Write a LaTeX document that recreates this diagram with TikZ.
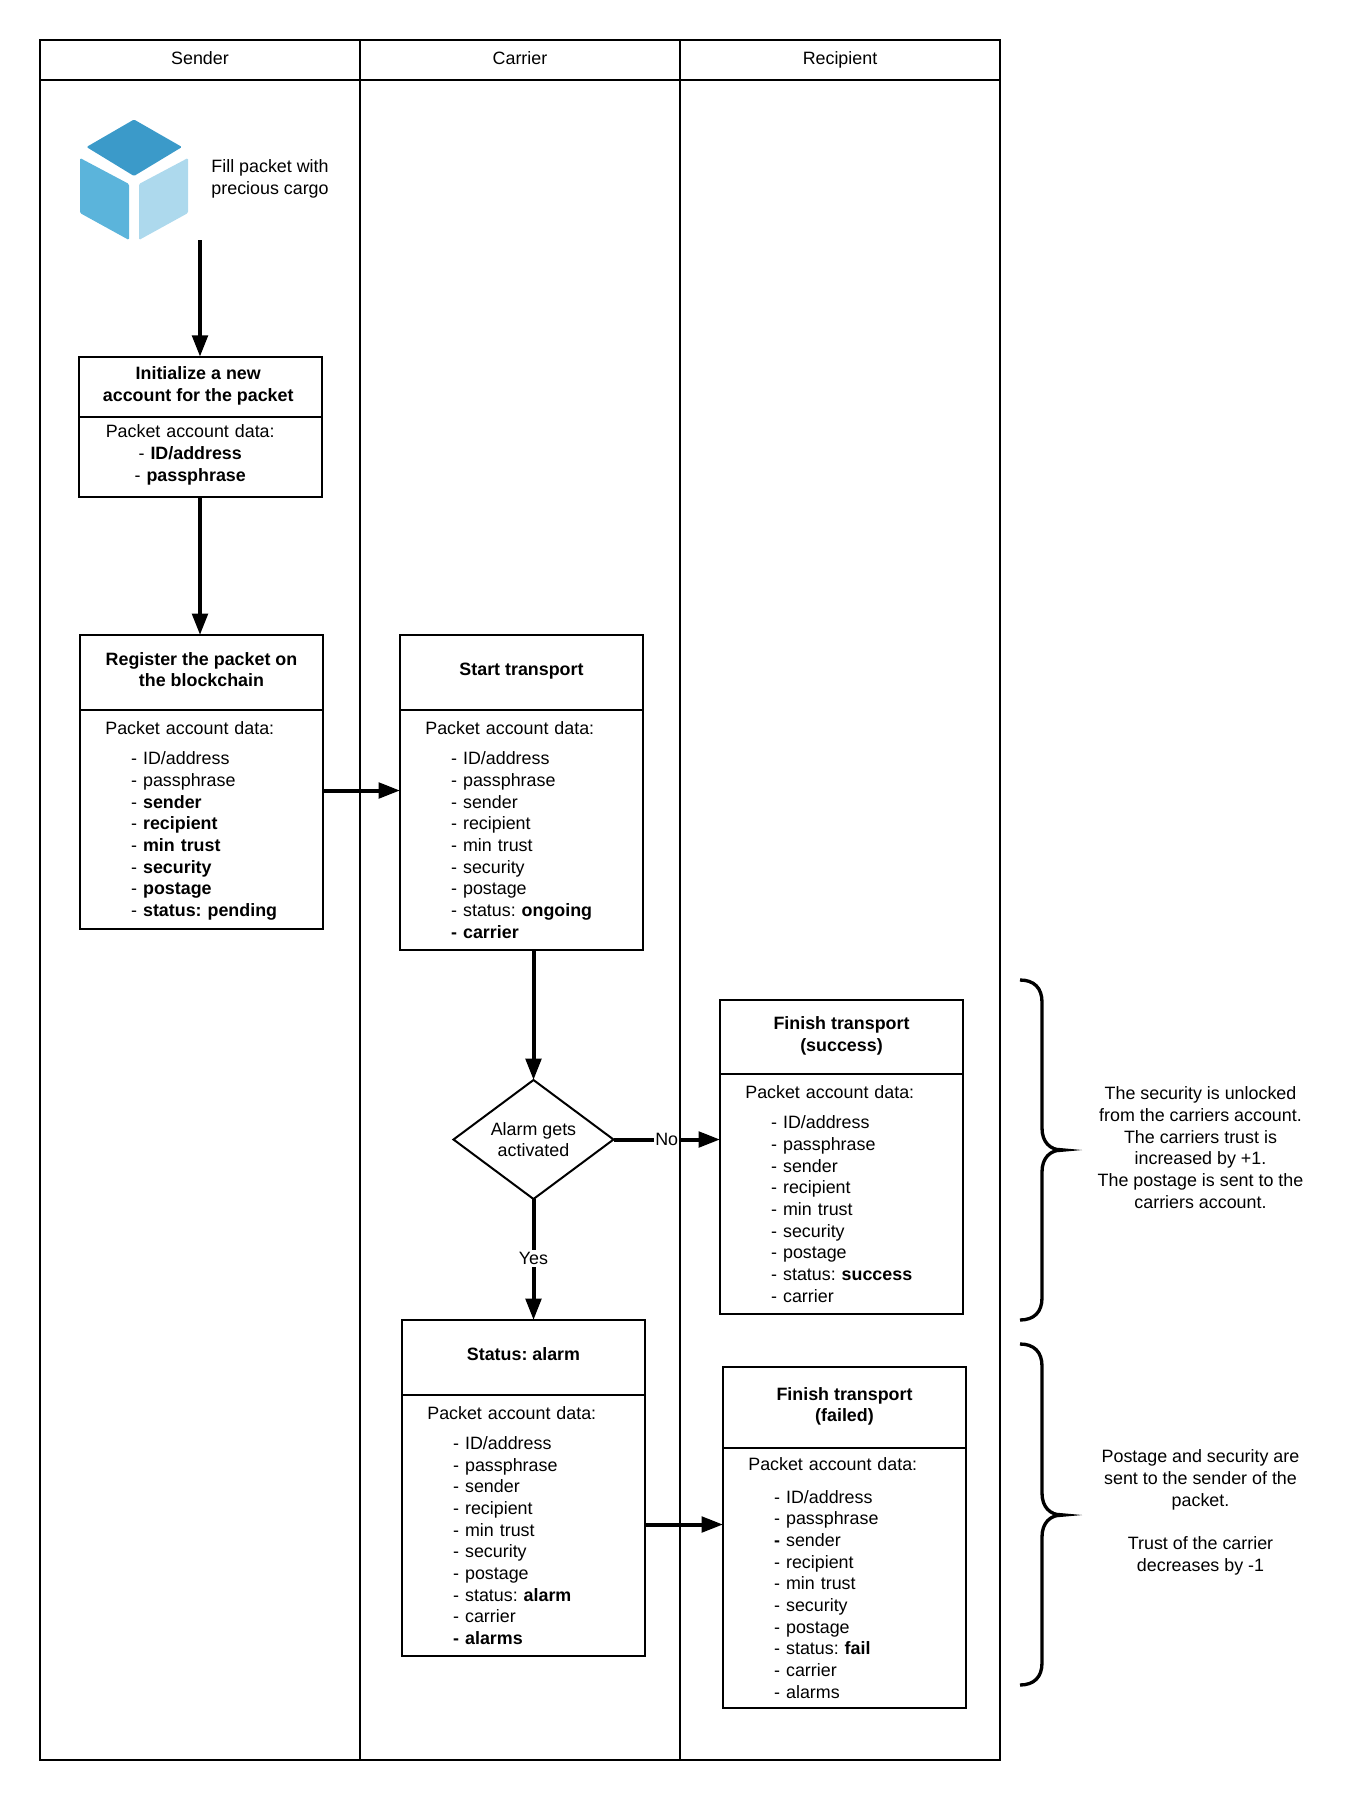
\documentclass[tikz,border=0pt]{standalone}
\usepackage{fontspec}
\setmainfont{Liberation Sans}
\usetikzlibrary{arrows.meta, calc, shapes.geometric, positioning}
\definecolor{cubetop}{HTML}{3B9AC9}
\definecolor{cubeleft}{HTML}{5BB4DB}
\definecolor{cuberight}{HTML}{ADD9ED}
\frenchspacing
\tikzstyle{every node}=[font=\fontsize{13.4}{16.25}\selectfont, outer sep=0pt]
\tikzstyle{lanehead}=[rectangle, draw, line width=1.5pt, minimum width=240pt, minimum height=30pt, text height=10pt, text depth=3pt]
\tikzstyle{lanebody}=[rectangle, draw, line width=1.5pt, minimum width=240pt, minimum height=1260pt]
\tikzstyle{boxtitle}=[rectangle, draw, line width=1.5pt, minimum width=182.25pt, align=center, inner sep=0pt, execute at end node={\rule[-4.5pt]{0pt}{4.5pt}}]
\tikzstyle{boxbody}=[rectangle, draw, line width=1.5pt, text width=144.25pt, inner xsep=19pt, inner ysep=0pt, align=left]
\tikzstyle{flow}=[line width=3pt, -{Triangle[length=16pt,width=11.5pt]}]
\tikzstyle{curly}=[line width=2.5pt]
\newcommand{\itm}{\hspace*{19.4pt}- }
\newcommand{\pkthead}[1][6.2pt]{Packet account data:\\[#1]}
\newcommand{\notebrace}[3]{
\draw [curly] (1020,#1) .. controls (1034,#1) and (1042,{#1+8}) .. (1042,{#1+22}) -- (1042,{#2-22})
 .. controls (1042,{#2-8}) and (1050,#2) .. (1062,#2) .. controls (1050,#2) and (1042,{#2+8}) .. (1042,{#2+22})
 -- (1042,{#3-22}) .. controls (1042,{#3-8}) and (1034,#3) .. (1020,#3);
\fill (1058,{#2-2.2}) -- (1082,#2) -- (1058,{#2+2.2}) -- cycle;
}
\begin{document}
\begin{tikzpicture}[x=0.75pt, y=-0.75pt]
\useasboundingbox (0,0) rectangle (1360,1800);
% lanes
\node [lanehead] (senderhead) at (200,60) {Sender};
\node [lanehead, right=0pt of senderhead] (carrierhead) {Carrier};
\node [lanehead, right=0pt of carrierhead] (recipienthead) {Recipient};
\node [lanebody, below=0pt of senderhead] (senderlane) {};
\node [lanebody, below=0pt of carrierhead] (carrierlane) {};
\node [lanebody, below=0pt of recipienthead] (recipientlane) {};
% packet icon
\fill [cubetop, rounded corners=1pt] (134,119.5) -- (182,147) -- (134,176) -- (86.5,147) -- cycle;
\fill [cubeleft, rounded corners=1pt] (80,158) -- (129,184) -- (129,240) -- (80,213) -- cycle;
\fill [cuberight, rounded corners=1pt] (139,184) -- (188,158) -- (188,213) -- (139,240) -- cycle;
\node [anchor=west, align=left] (fill) at (207,179) {Fill packet with\\precious cargo};
\coordinate (cubeout) at (200,240);
% sender
\node [boxtitle, minimum height=45.4pt] (inittitle) at (200.5,387) {\hspace*{-3.4pt}\textbf{Initialize a new}\\\hspace*{-3.4pt}\textbf{account for the packet}};
\node [boxbody, below=0pt of inittitle, minimum height=59.6pt, align=center] (initbody) {\hspace*{-15.4pt}Packet account data:\\\hspace*{-15.4pt}- \textbf{ID/address}\\\hspace*{-15.4pt}- \textbf{passphrase}\rule[-6.2pt]{0pt}{6.2pt}};
\node [boxtitle, minimum height=56.25pt] (regtitle) at (201.5,672.5) {\textbf{Register the packet on}\\\textbf{the blockchain}};
\node [boxbody, below=0pt of regtitle, minimum height=164.25pt] (regbody) {\rule{0pt}{12.2pt}\pkthead
\itm ID/address\\\itm passphrase\\\itm \textbf{sender}\\\itm \textbf{recipient}\\\itm \textbf{min trust}\\\itm \textbf{security}\\\itm \textbf{postage}\\\itm \textbf{status: pending}};
% carrier
\node [boxtitle, minimum height=56.25pt] (starttitle) at (521.5,672.5) {\textbf{Start transport}};
\node [boxbody, below=0pt of starttitle, minimum height=180pt] (startbody) {\pkthead
\itm ID/address\\\itm passphrase\\\itm sender\\\itm recipient\\\itm min trust\\\itm security\\\itm postage\\\itm status: \textbf{ongoing}\\\hspace*{19.4pt}\textbf{- carrier}};
\node [diamond, draw, line width=1.5pt, aspect=1.34, inner sep=0pt, minimum width=120pt, minimum height=89.25pt, align=center] (alarm) at (533.5,1139.5) {Alarm gets\\activated};
\node [boxtitle, minimum height=56.25pt] (alarmtitle) at (523.5,1357.5) {\textbf{Status: alarm}};
\node [boxbody, below=0pt of alarmtitle, minimum height=195.75pt] (alarmbody) {\pkthead
\itm ID/address\\\itm passphrase\\\itm sender\\\itm recipient\\\itm min trust\\\itm security\\\itm postage\\\itm status: \textbf{alarm}\\\itm carrier\\\hspace*{19.4pt}\textbf{- alarms}};
% recipient
\node [boxtitle, minimum height=55.5pt] (successtitle) at (841.5,1037) {\textbf{Finish transport}\\\textbf{(success)}};
\node [boxbody, below=0pt of successtitle, minimum height=180pt] (successbody) {\pkthead
\itm ID/address\\\itm passphrase\\\itm sender\\\itm recipient\\\itm min trust\\\itm security\\\itm postage\\\itm status: \textbf{success}\\\itm carrier};
\node [boxtitle, minimum height=60.75pt] (failtitle) at (844.5,1407.5) {\textbf{Finish transport}\\\textbf{(failed)}};
\node [boxbody, below=0pt of failtitle, minimum height=195pt] (failbody) {\pkthead[7.9pt]
\itm ID/address\\\itm passphrase\\\hspace*{19.4pt}\textbf{-} sender\\\itm recipient\\\itm min trust\\\itm security\\\itm postage\\\itm status: \textbf{fail}\\\itm carrier\\\itm alarms};
% connectors
\draw [flow] (cubeout) -- (cubeout |- inittitle.north);
\draw [flow] (cubeout |- initbody.south) -- (cubeout |- regtitle.north);
\draw [flow] ([yshift=21.75pt]regbody.east) coordinate (regout) -- (regout -| startbody.west);
\draw [flow] (alarm.north |- startbody.south) -- (alarm.north);
\draw [flow] (alarm.east) -- node [fill=white, inner sep=0.8pt] (nolabel) {No} (alarm.east -| successbody.west);
\draw [flow] (alarm.south) -- node [pos=0.49, fill=white, inner sep=1.5pt] (yeslabel) {Yes} (alarm.south |- alarmtitle.north);
\draw [flow] ([yshift=0.75pt]alarmbody.east) coordinate (alarmout) -- (alarmout -| failbody.west);
% braces and notes
\notebrace{980}{1150}{1320}
\notebrace{1344}{1515}{1685}
\node [align=center] (successnote) at (1200.5,1147.5) {The security is unlocked\\from the carriers account.\\The carriers trust is\\increased by +1.\\The postage is sent to the\\carriers account.};
\node [align=center] (failnote) at (1200.5,1512.5) {Postage and security are\\sent to the sender of the\\packet.\\[16.25pt]Trust of the carrier\\decreases by -1};
\end{tikzpicture}
\end{document}
